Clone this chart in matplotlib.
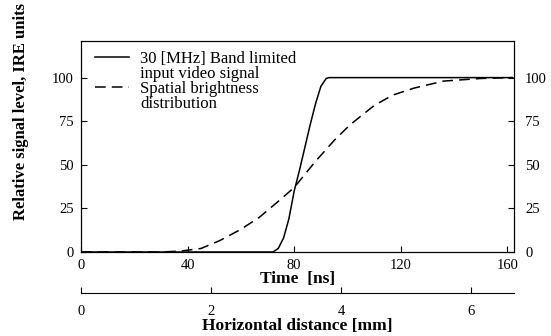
import numpy as np
from matplotlib import pyplot as plt

plt.rcParams['font.family'] = ['Liberation Serif', 'DejaVu Serif']

# band limited input signal (time in ns, level in IRE)
t_sig = [0, 72, 74, 76, 78, 80, 82, 84, 86, 88, 90, 92, 93, 162]
v_sig = [0, 0, 2, 8, 19, 35, 47, 60, 73, 85, 95, 99.5, 100, 100]

# spatial brightness distribution
t_br = [0, 30, 37, 45, 52, 60, 67, 74, 80, 88, 95, 101, 110, 117, 125, 136, 150, 162]
v_br = [0, 0, 0.5, 2, 6.5, 13, 20, 29, 37, 52, 64, 73, 84, 90, 94, 98, 99.5, 100]

yticks = [0, 25, 50, 75, 100]
xticks = [0, 40, 80, 120, 160]
mm_ticks = [0, 2, 4, 6]

fig = plt.figure(figsize=(5.51, 3.36), dpi=100)
ax = fig.add_axes([0.147, 0.25, 0.786, 0.628])
l1, = ax.plot(t_sig, v_sig, color="k", lw=1.1)
l2, = ax.plot(t_br, v_br, color="k", lw=1.1, dashes=(7, 4))
ax.set_xlim(0, 162.5)
ax.set_ylim(0, 121)
ax.set_xticks(xticks)
ax.set_yticks(yticks)
ax.tick_params(direction="in", labelsize=10.5, length=4, pad=5)
ax.set_xlabel("Time  [ns]", fontsize=12.5, fontweight="bold", labelpad=-1)

axr = ax.twinx()
axr.set_ylim(0, 121)
axr.set_yticks(yticks)
axr.tick_params(direction="in", labelsize=10.5, length=4, pad=8)

blank = plt.Line2D([], [], color="none")
ax.legend([l1, blank, l2, blank],
          ["30 [MHz] Band limited", "input video signal",
           "Spatial brightness", "distribution"],
          loc="upper left", frameon=False, fontsize=12, handlelength=2.0,
          borderaxespad=0.2, labelspacing=-0.05, handletextpad=0.7,
          bbox_to_anchor=(0.01, 1.0))

# second scale: horizontal distance
ax2 = fig.add_axes([0.147, 0.128, 0.786, 0.001])
ax2.set_xlim(0, 6.66)
ax2.set_yticks([])
for s in ["top", "left", "right"]:
    ax2.spines[s].set_visible(False)
ax2.set_xticks(mm_ticks)
ax2.tick_params(direction="in", labelsize=10.5, length=4, pad=9)
ax2.set_xlabel("Horizontal distance [mm]", fontsize=12.5, fontweight="bold", labelpad=0)

fig.text(0.038, 0.668, "Relative signal level, IRE units", rotation=90,
         fontsize=12, fontweight="bold", ha="center", va="center")

plt.savefig("out.png", dpi=100)
